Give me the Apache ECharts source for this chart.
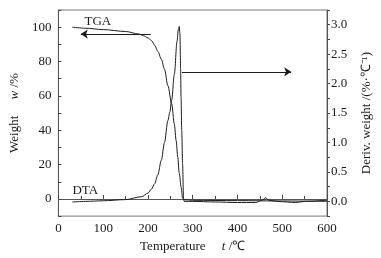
<!DOCTYPE html>
<html>
<head>
<meta charset="utf-8">
<script src="https://cdn.jsdelivr.net/npm/echarts@6/dist/echarts.min.js"></script>
<style>
  html, body { margin: 0; padding: 0; background: #fff; }
  #chart { width: 381px; height: 258px; }
</style>
</head>
<body>
<div id="chart"></div>
<script>
// TGA 曲线 (左轴, %)
const tgaTemp = [31, 60, 100, 150, 180, 190, 200, 208, 215, 222, 230, 237, 244.5, 253, 259, 263, 266.6, 270, 274, 277.4, 280, 300, 400, 500, 600];
const tgaWeight = [100, 99.4, 98.6, 97.5, 96, 95, 93.8, 92.2, 89.5, 86, 81.3, 75.5, 66, 55.5, 43.6, 34, 24.4, 15, 7, 0.5, -0.4, -0.8, -1.0, -1.2, -1.4];

// DTA 曲线 (右轴, %/℃)
const dtaTemp = [31, 60, 100, 150, 186, 200, 208, 215, 222, 230, 237, 244.5, 249, 253, 259, 265, 268, 270, 271.5, 273, 274, 275.5, 277.4, 279.5, 281, 300, 350, 400, 440, 455, 463, 470, 490, 510, 530, 550, 600];
const dtaDeriv = [-0.01, 0.0, 0.01, 0.03, 0.08, 0.14, 0.21, 0.3, 0.45, 0.7, 1.0, 1.37, 1.52, 1.72, 2.16, 2.72, 2.92, 2.97, 2.85, 2.25, 1.76, 1.2, 0.64, 0.05, 0.0, 0.0, -0.01, -0.02, -0.02, 0.02, 0.06, 0.02, 0.0, -0.01, -0.02, 0.0, 0.02];

const leftTicks = [0, 20, 40, 60, 80, 100];
const rightTicks = [0, 0.5, 1, 1.5, 2, 2.5, 3];

const font = 'Liberation Serif';
const ink = '#1a1a1a';

const chart = echarts.init(document.getElementById('chart'));
chart.setOption({
  animation: false,
  textStyle: { fontFamily: font },
  grid: {
    left: 55, right: 52, top: 10, bottom: 40,
    show: true, borderColor: '#777', borderWidth: 1
  },
  xAxis: {
    type: 'value',
    min: 0, max: 600, interval: 100,
    name: 'Temperature     {i|t} /℃',
    nameLocation: 'middle',
    nameGap: 20,
    nameTextStyle: {
      fontFamily: font, fontSize: 13, color: ink,
      rich: { i: { fontFamily: font, fontStyle: 'italic', fontSize: 13, color: ink } }
    },
    axisLine: { lineStyle: { color: '#555' } },
    axisTick: { inside: true, length: 4, lineStyle: { color: '#444' } },
    minorTick: { show: true, splitNumber: 2, length: 3, lineStyle: { color: '#444' } },
    axisLabel: { fontFamily: font, fontSize: 13, color: ink, margin: 6 },
    splitLine: { show: false }
  },
  yAxis: [
    {
      type: 'value',
      min: -10, max: 110, interval: 10,
      name: 'Weight     {i|w} /%',
      nameLocation: 'middle',
      nameRotate: 90,
      nameGap: 31,
      nameTextStyle: {
        fontFamily: font, fontSize: 13, color: ink,
        rich: { i: { fontFamily: font, fontStyle: 'italic', fontSize: 13, color: ink } }
      },
      axisLine: { show: true, lineStyle: { color: '#555' } },
      axisTick: { inside: true, length: 3, lineStyle: { color: '#444' } },
      axisLabel: {
        fontFamily: font, fontSize: 13, color: ink, margin: 7,
        formatter: v => leftTicks.includes(v) ? String(v) : ''
      },
      splitLine: { show: false }
    },
    {
      type: 'value',
      position: 'right',
      min: -0.25, max: 3.25, interval: 0.25,
      name: 'Deriv. weight /(%·℃⁻¹)',
      nameLocation: 'middle',
      nameRotate: 90,
      nameGap: 33,
      nameTextStyle: { fontFamily: font, fontSize: 13, color: ink },
      axisLine: { show: true, lineStyle: { color: '#555' } },
      axisTick: { inside: false, length: 3, lineStyle: { color: '#444' } },
      axisLabel: {
        fontFamily: font, fontSize: 13, color: ink, margin: 4,
        formatter: v => {
          const r = Math.round(v * 100) / 100;
          return rightTicks.includes(r) ? r.toFixed(1) : '';
        }
      },
      splitLine: { show: false }
    }
  ],
  series: [
    {
      name: 'TGA',
      type: 'line',
      yAxisIndex: 0,
      data: tgaTemp.map((t, i) => [t, tgaWeight[i]]),
      showSymbol: false,
      smooth: 0.3,
      smoothMonotone: 'x',
      lineStyle: { color: ink, width: 1 },
      silent: true,
      markLine: {
        silent: true,
        symbol: ['none', 'arrow'],
        symbolSize: 7,
        label: { show: false },
        lineStyle: { color: ink, width: 1, type: 'solid' },
        data: [[{ coord: [206, 96] }, { coord: [50, 96] }]]
      },
      markPoint: {
        silent: true,
        symbolSize: 0,
        label: { show: true, fontFamily: font, fontSize: 13, color: ink, formatter: '{b}' },
        data: [
          { name: 'TGA', coord: [88, 103.5] },
          { name: 'DTA', coord: [60, 5] }
        ]
      }
    },
    {
      name: 'DTA',
      type: 'line',
      yAxisIndex: 1,
      data: dtaTemp.map((t, i) => [t, dtaDeriv[i]]),
      showSymbol: false,
      smooth: 0.3,
      smoothMonotone: 'x',
      lineStyle: { color: ink, width: 1 },
      silent: true,
      markLine: {
        silent: true,
        symbol: ['none', 'arrow'],
        symbolSize: 7,
        label: { show: false },
        lineStyle: { color: ink, width: 1, type: 'solid' },
        data: [[{ coord: [276, 2.2] }, { coord: [520, 2.2] }]]
      }
    }
  ]
});
window.addEventListener('resize', () => { chart.resize(); });
</script>
</body>
</html>
